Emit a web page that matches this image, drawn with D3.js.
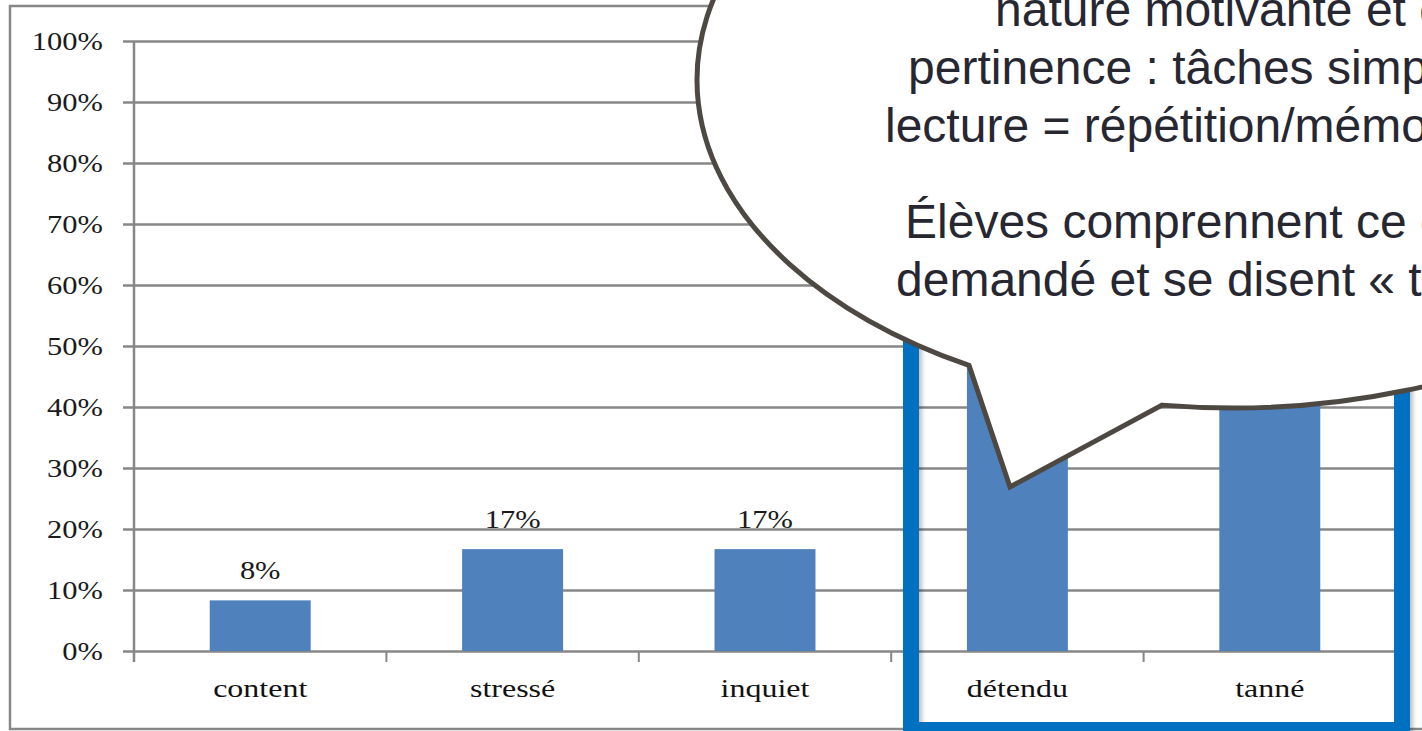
<!DOCTYPE html>
<html>
<head>
<meta charset="utf-8">
<script src="https://cdn.jsdelivr.net/npm/d3@7"></script>
<style>
  html, body { margin: 0; padding: 0; background: #fff; overflow: hidden; }
</style>
</head>
<body>
<script>
'use strict';

var categories = ['content', 'stressé', 'inquiet', 'détendu', 'tanné'];
var values = [8.3, 16.7, 16.7, 50, 41.7];
var valueLabels = ['8%', '17%', '17%', '50%', '42%'];
var yTicks = [0, 10, 20, 30, 40, 50, 60, 70, 80, 90, 100];
var bubbleLines = [
  'nature motivante et challengeante ;',
  'pertinence : tâches simples',
  'lecture = répétition/mémorisation',
  'Élèves comprennent ce qui est',
  'demandé et se disent « tannés »'
];

var width = 1422;
var height = 731;
var gray = '#878787';
var serif = '"Liberation Serif", "Times New Roman", serif';
var stretch = 1.22;

var x = d3.scaleBand()
  .domain(categories)
  .range([134, 1396])
  .paddingInner(0.6)
  .paddingOuter(0.3);

var y = d3.scaleLinear().domain([0, 100]).range([651, 41]);

var svg = d3.select('body').append('svg')
  .attr('width', width)
  .attr('height', height)
  .style('display', 'block');

var defs = svg.append('defs');
defs.append('filter')
  .attr('id', 'shadow')
  .attr('x', '-5%').attr('y', '-5%').attr('width', '110%').attr('height', '110%')
  .append('feDropShadow')
  .attr('dx', 3).attr('dy', 3).attr('stdDeviation', 2)
  .attr('flood-color', '#000').attr('flood-opacity', 0.25);

// chart frame
svg.append('rect')
  .attr('x', 10).attr('y', 6)
  .attr('width', 1440).attr('height', 723)
  .attr('fill', '#fff')
  .attr('stroke', gray)
  .attr('stroke-width', 2.5);

// gridlines
svg.append('g')
  .selectAll('line')
  .data(yTicks)
  .enter().append('line')
  .attr('x1', 123)
  .attr('x2', x.range()[1])
  .attr('y1', function(d) { return Math.round(y(d)) + 0.5; })
  .attr('y2', function(d) { return Math.round(y(d)) + 0.5; })
  .attr('stroke', gray)
  .attr('stroke-width', 2.5);

// y axis line
svg.append('line')
  .attr('x1', 134).attr('x2', 134)
  .attr('y1', y(100)).attr('y2', y(0) + 11)
  .attr('stroke', gray)
  .attr('stroke-width', 2.5);

// category ticks
svg.append('g')
  .selectAll('line')
  .data(categories)
  .enter().append('line')
  .attr('x1', function(d) { return x(d) - x.step() * x.paddingOuter(); })
  .attr('x2', function(d) { return x(d) - x.step() * x.paddingOuter(); })
  .attr('y1', y(0))
  .attr('y2', y(0) + 11)
  .attr('stroke', gray)
  .attr('stroke-width', 2);

// y tick labels
svg.append('g')
  .selectAll('text')
  .data(yTicks)
  .enter().append('text')
  .attr('transform', function(d) { return 'translate(103,' + (y(d) + 8.5) + ') scale(' + stretch + ',1)'; })
  .attr('text-anchor', 'end')
  .style('font-family', serif)
  .style('font-size', '25px')
  .style('fill', '#1a1a1a')
  .text(function(d) { return d + '%'; });

// bars
svg.append('g')
  .selectAll('rect')
  .data(values)
  .enter().append('rect')
  .attr('x', function(d, i) { return x(categories[i]); })
  .attr('y', function(d) { return y(d); })
  .attr('width', x.bandwidth())
  .attr('height', function(d) { return y(0) - y(d); })
  .attr('fill', '#4f81bd');

// value labels
svg.append('g')
  .selectAll('text')
  .data(values)
  .enter().append('text')
  .attr('transform', function(d, i) {
    return 'translate(' + (x(categories[i]) + x.bandwidth() / 2) + ',' + (y(d) - 21) + ') scale(' + stretch + ',1)';
  })
  .attr('text-anchor', 'middle')
  .style('font-family', serif)
  .style('font-size', '25px')
  .style('fill', '#1a1a1a')
  .text(function(d, i) { return valueLabels[i]; });

// category labels
svg.append('g')
  .selectAll('text')
  .data(categories)
  .enter().append('text')
  .attr('transform', function(d) {
    return 'translate(' + (x(d) + x.bandwidth() / 2) + ',697) scale(1.28,1)';
  })
  .attr('text-anchor', 'middle')
  .style('font-family', serif)
  .style('font-size', '25px')
  .style('fill', '#111')
  .text(function(d) { return d; });

// blue highlight frame around the last two categories
svg.append('rect')
  .attr('x', 911).attr('y', 250)
  .attr('width', 491).attr('height', 480)
  .attr('fill', 'none')
  .attr('stroke', '#0070c0')
  .attr('stroke-width', 16)
  .attr('filter', 'url(#shadow)');

// speech bubble
var cx = 1233, cy = 80, rx = 536, ry = 328;
function onEllipse(deg) {
  var t = deg * Math.PI / 180;
  return [cx + rx * Math.cos(t), cy + ry * Math.sin(t)];
}
var pStart = onEllipse(97.6);
var pEnd = onEllipse(119.5);
var tip = [1010, 487];

var bubblePath = 'M' + pStart[0] + ',' + pStart[1] +
  ' A' + rx + ' ' + ry + ' 0 1 0 ' + pEnd[0] + ',' + pEnd[1] +
  ' L' + tip[0] + ',' + tip[1] + ' Z';

svg.append('path')
  .attr('d', bubblePath)
  .attr('fill', '#fff')
  .attr('stroke', '#4e4843')
  .attr('stroke-width', 5)
  .attr('stroke-linejoin', 'miter');

var lineX = [995, 908, 885, 905, 896];
var lineY = [26, 84, 142, 238, 296];

svg.append('g')
  .selectAll('text')
  .data(bubbleLines)
  .enter().append('text')
  .attr('x', function(d, i) { return lineX[i]; })
  .attr('y', function(d, i) { return lineY[i]; })
  .style('font-family', '"Liberation Sans", Arial, sans-serif')
  .style('font-size', '48px')
  .style('fill', '#272732')
  .text(function(d) { return d; });
</script>
</body>
</html>
